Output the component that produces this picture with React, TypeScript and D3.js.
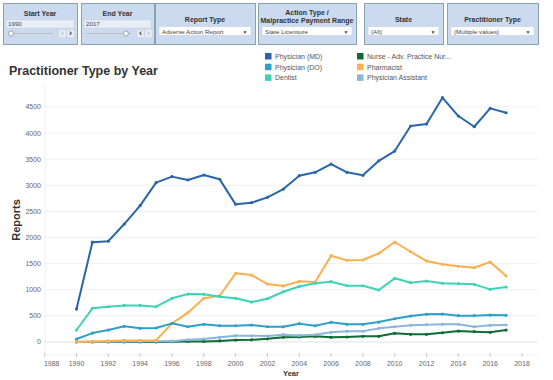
import React from "react";
import * as d3 from "d3";

const years = d3.range(1990, 2018);
const mdValues = [630, 1910, 1930, 2257, 2610, 3050, 3165, 3100, 3195, 3113, 2634, 2666, 2768, 2927, 3183, 3247, 3406, 3247, 3190, 3467, 3655, 4134, 4172, 4676, 4325, 4120, 4472, 4388];
const doValues = [56, 170, 228, 299, 260, 267, 356, 291, 337, 310, 310, 324, 291, 291, 349, 310, 375, 337, 337, 381, 444, 496, 528, 534, 502, 502, 515, 509];
const dentistValues = [228, 643, 674, 700, 700, 674, 835, 917, 911, 866, 835, 764, 827, 961, 1060, 1122, 1153, 1076, 1076, 994, 1218, 1134, 1166, 1122, 1115, 1103, 1007, 1051];
const nurseValues = [0, 0, 0, 0, 0, 0, 5, 10, 10, 20, 35, 40, 60, 90, 95, 107, 88, 95, 107, 107, 165, 145, 145, 176, 209, 196, 184, 228];
const pharmacistValues = [5, 10, 20, 30, 30, 30, 356, 560, 835, 885, 1313, 1281, 1109, 1070, 1160, 1147, 1651, 1562, 1568, 1696, 1913, 1727, 1549, 1486, 1447, 1421, 1530, 1262];
const paValues = [0, 3, 5, 8, 10, 12, 15, 40, 56, 88, 120, 119, 113, 140, 125, 138, 184, 203, 203, 260, 291, 318, 330, 337, 337, 291, 318, 324];

const seriesNames = ["Physician (MD)", "Physician (DO)", "Dentist", "Nurse - Adv. Practice Nur...", "Pharmacist", "Physician Assistant"];
const seriesColors = ["#2a65ab", "#2d9fc9", "#3dd3b5", "#0f6b36", "#fdae4f", "#8ab6dd"];
const seriesValues = [mdValues, doValues, dentistValues, nurseValues, pharmacistValues, paValues];
const drawOrder = [3, 5, 4, 2, 1, 0];

const xTicks = d3.range(1988, 2019, 2);
const yTicks = d3.range(0, 4501, 500);

const FONT = "'Liberation Sans', Arial, sans-serif";

function Panel({ x, w, children }: { x: number; w: number; children?: React.ReactNode }) {
  return (
    <g transform={`translate(${x},3)`}>
      <rect x={0.5} y={0.5} width={w} height={41} fill="#cbdaef" stroke="#86a3ad" strokeWidth={1} />
      {children}
    </g>
  );
}

function Dropdown({ w, text }: { w: number; text: string }) {
  return (
    <g>
      <rect x={4} y={23.5} width={w - 8} height={9} fill="#fff" stroke="#c9d3dd" strokeWidth={0.7} />
      <text x={7} y={30.5} fontSize={6.2} fill="#444" fontFamily={FONT}>{text}</text>
      <text x={w - 10} y={30.5} fontSize={5} fill="#444" fontFamily={FONT} textAnchor="middle">▼</text>
    </g>
  );
}

function YearSlider({ w, title, value, knobX, leftActive }: { w: number; title: string; value: string; knobX: number; leftActive: boolean }) {
  return (
    <g>
      <text x={w / 2} y={12.5} fontSize={7} fontWeight="bold" fill="#333" textAnchor="middle" fontFamily={FONT}>{title}</text>
      <rect x={3} y={17} width={w - 6} height={8} fill="#e8eef7" stroke="#c9d3dd" strokeWidth={0.6} />
      <text x={5} y={23.3} fontSize={6.2} fill="#444" fontFamily={FONT}>{value}</text>
      <line x1={6} x2={50} y1={30.5} y2={30.5} stroke="#bbb" strokeWidth={1} />
      <line x1={6} x2={50} y1={34} y2={34} stroke="#c6cfdb" strokeWidth={1} strokeDasharray="1,1" />
      <circle cx={knobX} cy={30.5} r={2.4} fill="#fff" stroke="#888" strokeWidth={0.7} />
      <rect x={56} y={26.5} width={7} height={8} fill="#e9eef5" stroke="#c9d3dd" strokeWidth={0.5} />
      <rect x={64} y={26.5} width={7} height={8} fill="#e9eef5" stroke="#c9d3dd" strokeWidth={0.5} />
      <text x={59.5} y={33.3} fontSize={9} fontWeight="bold" textAnchor="middle" fill={leftActive ? "#333" : "#bbb"} fontFamily={FONT}>‹</text>
      <text x={67.5} y={33.3} fontSize={9} fontWeight="bold" textAnchor="middle" fill={leftActive ? "#bbb" : "#333"} fontFamily={FONT}>›</text>
    </g>
  );
}

export default function App() {
  const x = d3.scaleLinear().domain([1988, 2018]).range([44.7, 522]);
  const y = d3.scaleLinear().domain([-250, 4900]).range([355, 86]);
  const line = d3.line<number>().x((_, i) => x(years[i])).y((v) => y(v));

  return (
    <svg width={553} height={380} style={{ position: "absolute", left: 0, top: 0, background: "#fff" }} fontFamily={FONT}>
      {/* Filter panels */}
      <Panel x={3} w={74}>
        <YearSlider w={74} title="Start Year" value="1990" knobX={8} leftActive={false} />
      </Panel>
      <Panel x={81} w={73}>
        <YearSlider w={73} title="End Year" value="2017" knobX={45} leftActive={true} />
      </Panel>
      <Panel x={155} w={100}>
        <text x={50} y={19} fontSize={7} fontWeight="bold" fill="#333" textAnchor="middle">Report Type</text>
        <Dropdown w={100} text="Adverse Action Report" />
      </Panel>
      <Panel x={258} w={98}>
        <text x={49} y={12} fontSize={7} fontWeight="bold" fill="#333" textAnchor="middle">Action Type /</text>
        <text x={49} y={19.5} fontSize={7} fontWeight="bold" fill="#333" textAnchor="middle">Malpractice Payment Range</text>
        <Dropdown w={98} text="State Licensure" />
      </Panel>
      <Panel x={364} w={79}>
        <text x={39.5} y={19} fontSize={7} fontWeight="bold" fill="#333" textAnchor="middle">State</text>
        <Dropdown w={79} text="(All)" />
      </Panel>
      <Panel x={447} w={91}>
        <text x={45.5} y={19} fontSize={7} fontWeight="bold" fill="#333" textAnchor="middle">Practitioner Type</text>
        <Dropdown w={91} text="(Multiple values)" />
      </Panel>

      {/* Title */}
      <text x={9} y={75} fontSize={12.5} fontWeight="bold" fill="#333">Practitioner Type by Year</text>

      {/* Legend */}
      {seriesNames.map((name, i) => {
        const col = Math.floor(i / 3);
        const row = i % 3;
        const lx = col === 0 ? 265 : 357;
        const ly = 53 + row * 10.7;
        return (
          <g key={name}>
            <rect x={lx} y={ly} width={6.5} height={6.5} fill={seriesColors[i]} />
            <text x={lx + 10} y={ly + 6} fontSize={7} fill="#555">{name}</text>
          </g>
        );
      })}

      {/* Grid */}
      <line x1={45} x2={45} y1={85} y2={355} stroke="#f0f0f0" />
      {yTicks.map((t) => (
        <g key={t}>
          <line x1={45} x2={538} y1={y(t)} y2={y(t)} stroke={t === 0 ? "#e2e2e2" : "#f0f0f0"} strokeWidth={1} />
          <text x={41} y={y(t) + 2.5} fontSize={7} fill="#666" textAnchor="end">{t}</text>
        </g>
      ))}
      <line x1={45} x2={538} y1={355} y2={355} stroke="#f2f2f2" />
      {xTicks.map((t) => (
        <g key={t}>
          <line x1={x(t)} x2={x(t)} y1={353} y2={357} stroke="#bbb" strokeWidth={0.8} />
          <text x={t === 1988 ? x(t) + 7 : x(t)} y={366} fontSize={7} fill="#666" textAnchor="middle">{t}</text>
        </g>
      ))}
      <text x={291} y={376} fontSize={7.5} fontWeight="bold" fill="#333" textAnchor="middle">Year</text>
      <text transform="translate(20,220) rotate(-90)" fontSize={11} fontWeight="bold" fill="#333" textAnchor="middle">Reports</text>

      {/* Lines */}
      {drawOrder.map((si) => (
        <g key={si}>
          <path d={line(seriesValues[si]) || ""} fill="none" stroke={seriesColors[si]} strokeWidth={2} strokeLinejoin="round" />
          {seriesValues[si].map((v, i) => (
            <circle key={i} cx={x(years[i])} cy={y(v)} r={1.6} fill={seriesColors[si]} />
          ))}
        </g>
      ))}
    </svg>
  );
}
